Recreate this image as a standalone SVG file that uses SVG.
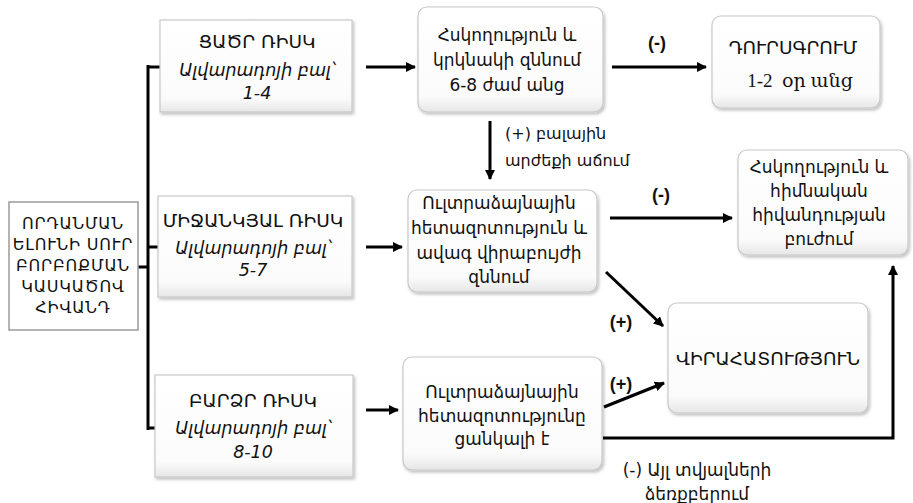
<svg xmlns="http://www.w3.org/2000/svg" width="913" height="503" viewBox="0 0 913 503">
<defs>
<linearGradient id="g" x1="0" y1="0" x2="0" y2="1">
<stop offset="0" stop-color="#ffffff"/>
<stop offset="0.85" stop-color="#fbfbfb"/>
<stop offset="1" stop-color="#e6e6e6"/>
</linearGradient>
<filter id="sh" x="-10%" y="-10%" width="125%" height="130%">
<feDropShadow dx="1.5" dy="2" stdDeviation="1.5" flood-color="#000" flood-opacity="0.25"/>
</filter>
<marker id="ah" viewBox="0 0 10 10" refX="9" refY="5" markerWidth="10" markerHeight="10" markerUnits="userSpaceOnUse" orient="auto">
<path d="M0,0 L10,5 L0,10 z" fill="#000"/>
</marker>
</defs>
<style>
.box{fill:url(#g);stroke:#c8c8c8;stroke-width:1.2;filter:url(#sh)}
.sq{fill:#fff;stroke:#9a9a9a;stroke-width:1.5}
.t{font-family:"DejaVu Sans","Noto Sans",sans-serif;font-size:17px;fill:#111;text-anchor:middle}
.k{font-family:"DejaVu Sans","Noto Sans",sans-serif;font-size:18.5px;fill:#111;text-anchor:middle}
.c{font-family:"DejaVu Sans","Noto Sans",sans-serif;font-size:16px;fill:#111;text-anchor:middle;letter-spacing:0.8px}
.i{font-family:"DejaVu Sans","Noto Sans",sans-serif;font-size:17.5px;font-style:italic;fill:#111;text-anchor:middle}
.s{font-family:"Liberation Serif","DejaVu Serif",serif;font-size:19px;fill:#111;text-anchor:middle;white-space:pre}
.b{font-family:"Liberation Sans",sans-serif;font-size:18px;font-weight:bold;fill:#111;text-anchor:middle}
.a{font-family:"DejaVu Sans","Noto Sans",sans-serif;font-size:16px;fill:#111}
.ln{stroke:#000;stroke-width:3;fill:none}
.ar{stroke:#000;stroke-width:3;fill:none;marker-end:url(#ah)}
</style>

<g id="connectors">
<line class="ln" x1="148" y1="65" x2="148" y2="430"/>
<line class="ln" x1="138" y1="267" x2="148" y2="267"/>
<line class="ln" x1="148" y1="67" x2="160" y2="67"/>
<line class="ln" x1="148" y1="247" x2="159" y2="247"/>
<line class="ln" x1="148" y1="428" x2="156" y2="428"/>
<line class="ar" x1="366" y1="67" x2="415" y2="67"/>
<line class="ar" x1="612" y1="67" x2="706" y2="67"/>
<line class="ar" x1="490" y1="121" x2="490" y2="179"/>
<line class="ar" x1="366" y1="247" x2="402" y2="247"/>
<line class="ar" x1="610" y1="218" x2="732" y2="218"/>
<line class="ar" x1="606" y1="272" x2="663" y2="326"/>
<line class="ar" x1="366" y1="410" x2="398" y2="410"/>
<line class="ar" x1="604" y1="407" x2="664" y2="383"/>
<polyline class="ar" points="603,438 893,438 893,266"/>
<text class="b" x="657" y="49">(-)</text>
<text class="b" x="661" y="201">(-)</text>
<text class="b" x="621" y="328">(+)</text>
<text class="b" x="621" y="390">(+)</text>
<text class="a" x="505" y="139">(+) բալային</text>
<text class="a" x="505" y="166">արժեքի աճում</text>
<text class="t" x="697" y="476">(-) Այլ տվյալների</text>
<text class="t" x="697" y="500">ձեռքբերում</text>
</g>

<g id="n-start">
<rect class="sq" x="9" y="202" width="129" height="128"/>
<text class="c" x="73" y="229">ՈՐԴԱՆՄԱՆ</text>
<text class="c" x="73" y="250">ԵԼՈՒՆԻ ՍՈՒՐ</text>
<text class="c" x="73" y="271">ԲՈՐԲՈՔՄԱՆ</text>
<text class="c" x="73" y="292">ԿԱՍԿԱԾՈՎ</text>
<text class="c" x="73" y="313">ՀԻՎԱՆԴ</text>
</g>

<g id="n-low">
<rect class="box" x="160" y="20" width="192" height="92"/>
<text class="k" x="257" y="48">ՑԱԾՐ ՌԻՍԿ</text>
<text class="i" x="257" y="76">Ալվարադոյի բալ՝</text>
<text class="i" x="257" y="99">1-4</text>
</g>

<g id="n-mid">
<rect class="box" x="158" y="196" width="194" height="101"/>
<text class="k" x="253" y="227">ՄԻՋԱՆԿՅԱԼ ՌԻՍԿ</text>
<text class="i" x="253" y="254">Ալվարադոյի բալ՝</text>
<text class="i" x="253" y="276">5-7</text>
</g>

<g id="n-high">
<rect class="box" x="155" y="375" width="198" height="102"/>
<text class="k" x="253" y="407">ԲԱՐՁՐ ՌԻՍԿ</text>
<text class="i" x="253" y="434">Ալվարադոյի բալ՝</text>
<text class="i" x="253" y="458">8-10</text>
</g>

<g id="n-observe">
<rect class="box" x="418" y="7" width="185" height="105" rx="9"/>
<text class="t" x="507" y="41">Հսկողություն և</text>
<text class="t" x="507" y="66">կրկնակի զննում</text>
<text class="t" x="507" y="91">6-8 ժամ անց</text>
</g>

<g id="n-discharge">
<rect class="box" x="712" y="16" width="168" height="92" rx="9"/>
<text class="k" x="793" y="54">ԴՈՒՐՍԳՐՈՒՄ</text>
<text class="s" x="800" y="87">1-2  օր անց</text>
</g>

<g id="n-us1">
<rect class="box" x="408" y="190" width="189" height="102" rx="9"/>
<text class="t" x="499" y="209">Ուլտրաձայնային</text>
<text class="t" x="499" y="234">հետազոտություն և</text>
<text class="t" x="499" y="259">ավագ վիրաբույժի</text>
<text class="t" x="499" y="283">զննում</text>
</g>

<g id="n-treat">
<rect class="box" x="738" y="150" width="170" height="105" rx="9"/>
<text class="t" x="819" y="173">Հսկողություն և</text>
<text class="t" x="819" y="197">հիմնական</text>
<text class="t" x="819" y="221">հիվանդության</text>
<text class="t" x="819" y="245">բուժում</text>
</g>

<g id="n-surgery">
<rect class="box" x="668" y="303" width="200" height="110" rx="9"/>
<text class="k" x="768" y="365">ՎԻՐԱՀԱՏՈՒԹՅՈՒՆ</text>
</g>

<g id="n-us2">
<rect class="box" x="403" y="357" width="199" height="113" rx="9"/>
<text class="t" x="502" y="398">Ուլտրաձայնային</text>
<text class="t" x="502" y="422">հետազոտությունը</text>
<text class="t" x="502" y="445">ցանկալի է</text>
</g>
</svg>
